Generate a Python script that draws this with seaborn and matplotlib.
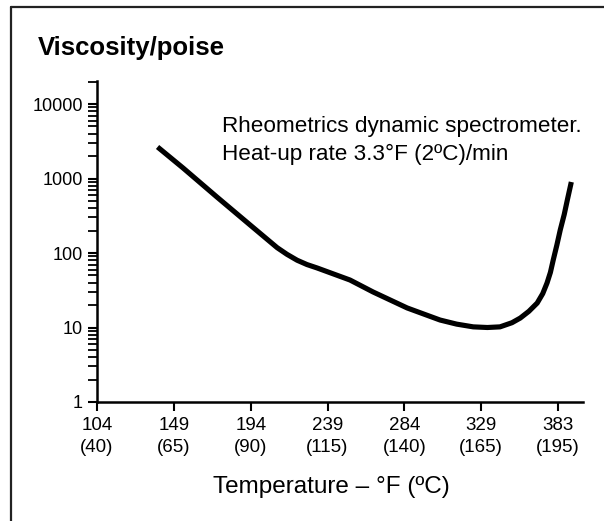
import matplotlib
matplotlib.use("Agg")
import matplotlib.pyplot as plt
import matplotlib.lines as mlines
from matplotlib.ticker import LogLocator, NullFormatter, FixedLocator, FixedFormatter
import seaborn as sns
import pandas as pd

# Data (temperature in °C, viscosity in poise)
temp_c = [59.7, 68.0, 79.0, 89.8, 98.6, 101.8, 105.1, 108.3, 111.6, 122.3, 129.8, 140.9,
          151.6, 157.0, 162.4, 167.0, 171.1, 175.0, 177.7, 180.5, 183.2,
          185.0, 186.4, 187.5, 188.4, 189.6, 190.7, 192.0, 193.0, 194.3]
viscosity = [2650, 1384, 565, 238, 118, 96, 80, 70, 63, 43.4, 30.0, 18.3,
             12.6, 11.1, 10.2, 10.0, 10.2, 11.6, 13.4, 16.5, 21.3,
             28.5, 39.6, 55, 80, 128, 204, 330, 514, 898]

tick_pos_c = [40, 65, 90, 115, 140, 165, 190]
tick_labels = ["104\n(40)", "149\n(65)", "194\n(90)", "239\n(115)",
               "284\n(140)", "329\n(165)", "383\n(195)"]
y_ticks = [1, 10, 100, 1000, 10000]
y_tick_labels = ["1", "10", "100", "1000", "10000"]

df = pd.DataFrame({"temp": temp_c, "visc": viscosity})

sns.set_style("ticks")
plt.rcParams["font.family"] = ["Liberation Sans", "DejaVu Sans"]
plt.rcParams["text.color"] = "black"

fig = plt.figure(figsize=(6.04, 5.21), dpi=100)
ax = fig.add_axes([97/604, 1 - 402/521, (583 - 97)/604, (402 - 81)/521])

sns.lineplot(data=df, x="temp", y="visc", ax=ax, color="black",
             linewidth=3.7, sort=False, estimator=None)
for l in ax.lines:
    l.set_solid_capstyle("butt")
    l.set_solid_joinstyle("round")

ax.set_yscale("log")
ax.set_ylim(1, 10 ** 4.309)
ax.set_xlim(40, 198.1)

ax.yaxis.set_major_locator(FixedLocator(y_ticks))
ax.yaxis.set_major_formatter(FixedFormatter(y_tick_labels))
ax.yaxis.set_minor_locator(LogLocator(base=10, subs=range(2, 10), numticks=20))
ax.yaxis.set_minor_formatter(NullFormatter())

ax.xaxis.set_major_locator(FixedLocator(tick_pos_c))
ax.xaxis.set_major_formatter(FixedFormatter(tick_labels))

for side in ["top", "right"]:
    ax.spines[side].set_visible(False)
for side in ["left", "bottom"]:
    ax.spines[side].set_linewidth(1.8)
    ax.spines[side].set_color("black")

ax.tick_params(axis="y", which="major", length=6.5, width=1.5, pad=3.5,
               labelsize=13, colors="black")
ax.tick_params(axis="y", which="minor", length=6.5, width=1.3, colors="black")
ax.tick_params(axis="x", which="major", length=6.5, width=1.5, pad=4,
               labelsize=13.5, colors="black")
for t in ax.get_xticklabels():
    t.set_linespacing(1.4)

ax.set_xlabel("")
ax.set_ylabel("")

fig.text(38/604, 1 - 48/521, "Viscosity/poise", fontsize=18.5, fontweight="bold",
         ha="left", va="center", color="black")
fig.text(222/604, 1 - 116/521,
         "Rheometrics dynamic spectrometer.\nHeat-up rate 3.3°F (2ºC)/min",
         fontsize=16.2, ha="left", va="top", linespacing=1.42, color="black")
fig.text(331/604, 1 - 487/521, "Temperature – °F (ºC)", fontsize=17.5,
         ha="center", va="center", color="black")

# Frame lines (top and left)
fig.add_artist(mlines.Line2D([11/604, 1.0], [1 - 7/521, 1 - 7/521],
                             transform=fig.transFigure, color="#222222", linewidth=1.6))
fig.add_artist(mlines.Line2D([11/604, 11/604], [0.0, 1 - 7/521],
                             transform=fig.transFigure, color="#222222", linewidth=1.6))

fig.savefig("out.png", dpi=100)
